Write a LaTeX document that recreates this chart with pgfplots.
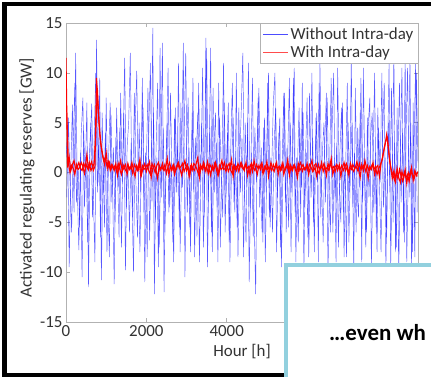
\documentclass[border=0pt]{standalone}
\usepackage{pgfplots}
\pgfplotsset{compat=1.18}
\usepackage{fontspec}
\setmainfont{Carlito}
\definecolor{boxcol}{RGB}{146,208,222}
\begin{document}
\begin{tikzpicture}[x=1bp,y=1bp]
\useasboundingbox (0,0) rectangle (431,377);
\clip (0,0) rectangle (431,377);
\fill[white] (0,0) rectangle (431,377);
\begin{axis}[
  at={(66bp,55bp)}, anchor=south west,
  scale only axis, width=352bp, height=299bp,
  xmin=0, xmax=8760, ymin=-15, ymax=15,
  xtick={0,2000,4000,6000,8000}, xticklabels={0,2000,4000,,},
  ytick={-15,-10,-5,0,5,10,15},
  tick align=inside, major tick length=4bp,
  axis line style={draw=gray!60, line width=0.6bp},
  tick style={draw=gray!60, line width=0.5bp},
  /pgf/number format/assume math mode=true,
  /pgf/number format/1000 sep={},
  ticklabel style={font=\fontsize{17}{17}\selectfont, text=black!80},
  label style={font=\fontsize{17}{17}\selectfont, text=black!80},
  xlabel={Hour [h]}, ylabel={Activated regulating reserves [GW]},
  xlabel style={at={(axis description cs:0.5,-0.1)}, anchor=center},
  ylabel style={at={(axis description cs:-0.111,0.483)}, anchor=center},
  legend style={at={(1,1)}, anchor=north east, draw=gray!60, fill=white,
    font=\fontsize{17}{17}\selectfont, text=black!80, inner sep=2.5bp, row sep=1bp,
    cells={anchor=west}},
  legend image code/.code={\draw[#1, line width=0.5bp, opacity=0.7] (0bp,0bp) -- (25bp,0bp);},
]
\addplot[blue, opacity=0.65, line width=0.45bp] coordinates {
(0,1.5)(40,4.0)(80,-9.5)(120,0.5)(160,6.8)(200,-4.0)(240,12.0)(280,-1.5)(320,-7.8)(360,2.0)
(400,-10.5)(440,4.2)(480,-0.5)(520,7.0)(560,-11.5)(600,2.8)(640,6.9)(680,-2.0)(720,-9.0)(760,13.3)
(800,-1.0)(840,9.5)(880,-10.8)(920,1.0)(960,-5.5)(1000,7.5)(1040,-2.5)(1080,-8.5)(1120,5.8)(1160,-1.5)
(1200,-11.2)(1240,3.5)(1280,0.5)(1320,-6.5)(1360,8.0)(1400,-1.0)(1440,6.0)(1480,-9.8)(1520,2.5)(1560,5.0)
(1600,12.0)(1640,-2.0)(1680,-10.0)(1720,4.5)(1760,10.2)(1800,-1.5)(1840,-8.0)(1880,3.0)(1920,6.5)(1960,-11.0)
(2000,1.0)(2040,8.5)(2080,-6.8)(2120,0.5)(2160,14.5)(2200,-12.2)(2240,2.0)(2280,9.0)(2320,-7.5)(2360,1.5)
(2400,13.0)(2440,-12.0)(2480,0.5)(2520,5.0)(2560,-4.0)(2600,8.0)(2640,-1.0)(2680,-9.0)(2720,6.5)(2760,-2.0)
(2800,11.0)(2840,-8.0)(2880,1.0)(2920,13.0)(2960,-10.5)(3000,2.0)(3040,7.5)(3080,-5.5)(3120,0.5)(3160,9.5)
(3200,-8.5)(3240,1.5)(3280,6.0)(3320,-9.0)(3360,0.5)(3400,10.5)(3440,-4.5)(3480,13.5)(3520,-9.5)(3560,1.0)
(3600,12.5)(3640,-8.0)(3680,2.0)(3720,6.0)(3760,-3.5)(3800,9.0)(3840,-7.5)(3880,0.5)(3920,11.0)(3960,-6.0)
(4000,1.5)(4040,7.0)(4080,-9.0)(4120,0.5)(4160,5.5)(4200,-4.0)(4240,10.0)(4280,-8.5)(4320,1.0)(4360,6.0)
(4400,12.0)(4440,-1.5)(4480,-7.0)(4520,5.0)(4560,-11.0)(4600,0.5)(4640,9.5)(4680,-4.0)(4720,-12.2)(4760,3.0)
(4800,8.5)(4840,-1.0)(4880,-6.0)(4920,4.5)(4960,-9.0)(5000,1.5)(5040,10.0)(5080,-5.5)(5120,0.5)(5160,7.0)
(5200,10.0)(5240,-8.0)(5280,1.0)(5320,5.5)(5360,-9.5)(5400,0.5)(5440,8.0)(5480,-6.0)(5520,2.0)(5560,9.5)
(5600,-8.0)(5640,1.0)(5680,10.5)(5720,-9.0)(5760,0.5)(5800,6.5)(5840,-4.5)(5880,9.0)(5920,-10.0)(5960,1.5)
(6000,7.5)(6040,-8.5)(6080,0.5)(6120,10.0)(6160,-5.0)(6200,1.0)(6240,6.0)(6280,-9.0)(6320,11.0)(6360,-1.0)
(6400,-7.0)(6440,3.0)(6480,8.0)(6520,-10.5)(6560,0.5)(6600,9.5)(6640,-6.0)(6680,1.5)(6720,-9.0)(6760,10.5)
(6800,-1.0)(6840,-5.0)(6880,7.0)(6920,-8.5)(6960,0.5)(7000,9.0)(7040,-7.0)(7080,1.0)(7120,5.0)(7160,-10.0)
(7200,8.5)(7240,-1.5)(7280,-4.5)(7320,6.0)(7360,-9.0)(7400,10.5)(7440,-1.0)(7480,-6.0)(7520,4.5)(7560,7.5)
(7600,-9.5)(7640,0.5)(7680,10.0)(7720,-5.5)(7760,6.5)(7800,-1.0)(7840,-8.0)(7880,4.0)(7920,9.0)(7960,-10.0)
(8000,1.0)(8040,11.0)(8080,-9.5)(8120,0.5)(8160,12.0)(8200,-8.0)(8240,6.5)(8280,-10.5)(8320,1.5)(8360,10.5)
(8400,-6.0)(8440,12.0)(8480,-9.0)(8520,0.5)(8560,11.5)(8600,-10.0)(8640,7.0)(8680,-8.5)(8720,10.0)(8760,1.0)
};
\addlegendentry{Without Intra-day}
\addplot[blue, opacity=0.65, line width=0.45bp, forget plot] coordinates {
(20,-2.5)(60,5.5)(100,-1.0)(140,-6.0)(180,2.5)(220,9.0)(260,-3.0)(300,1.0)(340,-5.5)(380,4.0)
(420,7.5)(460,-3.5)(500,2.0)(540,-7.0)(580,1.5)(620,5.0)(660,-4.5)(700,3.0)(740,10.0)(780,-2.0)
(820,3.5)(860,-6.5)(900,6.0)(940,-2.0)(980,4.0)(1020,-8.0)(1060,1.5)(1100,7.0)(1140,-3.0)(1180,2.5)
(1220,-5.0)(1260,6.5)(1300,-1.5)(1340,4.5)(1380,-7.5)(1420,2.0)(1460,11.5)(1500,-3.5)(1540,1.0)(1580,-6.0)
(1620,3.0)(1660,-4.5)(1700,8.0)(1740,-1.0)(1780,-6.5)(1820,5.0)(1860,-2.0)(1900,9.5)(1940,-4.0)(1980,2.0)
(2020,-8.5)(2060,4.0)(2100,11.0)(2140,-3.0)(2180,6.0)(2220,-5.0)(2260,1.5)(2300,-9.5)(2340,12.5)(2380,-2.5)
(2420,4.5)(2460,-6.0)(2500,2.0)(2540,10.5)(2580,-3.5)(2620,1.0)(2660,-7.0)(2700,5.5)(2740,-2.0)(2780,3.0)
(2820,-5.5)(2860,7.0)(2900,-1.5)(2940,4.0)(2980,12.0)(3020,-4.0)(3060,2.5)(3100,-8.0)(3140,6.0)(3180,-2.0)
(3220,3.5)(3260,-6.5)(3300,9.0)(3340,-1.0)(3380,5.0)(3420,-7.5)(3460,2.0)(3500,12.5)(3540,-3.0)(3580,4.5)
(3620,-6.0)(3660,8.5)(3700,-2.0)(3740,3.0)(3780,-9.0)(3820,5.5)(3860,1.0)(3900,-4.5)(3940,7.0)(3980,-2.5)
(4020,4.0)(4060,-7.0)(4100,2.5)(4140,9.0)(4180,-3.0)(4220,1.5)(4260,-5.5)(4300,6.5)(4340,-2.0)(4380,3.5)
(4420,-8.5)(4460,5.0)(4500,-1.5)(4540,11.0)(4580,-4.0)(4620,2.0)(4660,-6.5)(4700,4.5)(4740,-1.0)(4780,7.5)
(4820,-3.5)(4860,2.5)(4900,-7.0)(4940,5.5)(4980,-2.0)(5020,9.0)(5060,-4.5)(5100,1.5)(5140,-6.0)(5180,3.0)
(5220,6.5)(5260,-2.5)(5300,4.0)(5340,-7.5)(5380,1.0)(5420,8.0)(5460,-3.0)(5500,2.5)(5540,-5.5)(5580,5.0)
(5620,-2.0)(5660,9.5)(5700,-4.0)(5740,1.5)(5780,-7.0)(5820,4.5)(5860,-1.5)(5900,6.0)(5940,-3.5)(5980,2.0)
(6020,-6.5)(6060,8.0)(6100,-2.5)(6140,3.5)(6180,-8.0)(6220,5.5)(6260,-1.0)(6300,9.0)(6340,-4.5)(6380,2.0)
(6420,5.0)(6460,-3.0)(6500,7.5)(6540,-1.5)(6580,-6.0)(6620,4.0)(6660,10.0)(6700,-2.5)(6740,3.0)(6780,-7.5)
(6820,2.5)(6860,6.5)(6900,-4.0)(6940,1.0)(6980,-8.5)(7020,5.0)(7060,-2.0)(7100,11.5)(7140,-3.5)(7180,2.0)
(7220,-6.0)(7260,4.5)(7300,-1.5)(7340,9.5)(7380,-3.0)(7420,2.0)(7460,-7.5)(7500,5.5)(7540,-2.5)(7580,3.5)
(7620,6.0)(7660,-4.0)(7700,2.0)(7740,-8.0)(7780,4.5)(7820,-1.0)(7860,10.0)(7900,-3.5)(7940,1.5)(7980,-6.5)
(8020,5.0)(8060,-2.0)(8100,8.5)(8140,-5.0)(8180,3.0)(8220,-7.5)(8260,1.5)(8300,9.0)(8340,-3.0)(8380,4.0)
(8420,-7.0)(8460,3.5)(8500,10.5)(8540,-2.5)(8580,5.0)(8620,-8.0)(8660,2.0)(8700,11.0)(8740,-4.0)
};
\addplot[red, line width=1.1bp] coordinates {
(0,11.5)(40,0.5)(80,1.5)(120,0.2)(160,0.8)(200,1.2)(240,0.3)(280,0.6)(320,1.0)(360,0.4)
(400,0.2)(440,0.9)(480,0.5)(520,1.8)(560,0.3)(600,0.7)(640,1.1)(680,0.2)(720,0.6)(760,9.5)
(800,6.5)(840,4.0)(880,2.5)(920,1.5)(960,0.8)(1000,2.0)(1040,0.4)(1080,1.0)(1120,0.3)(1160,0.7)
(1200,0.2)(1240,0.9)(1280,-0.3)(1320,0.6)(1360,1.2)(1400,0.1)(1440,0.5)(1480,0.8)(1520,-0.2)(1560,0.6)
(1600,0.4)(1640,1.0)(1680,0.2)(1720,-0.4)(1760,0.7)(1800,0.3)(1840,1.3)(1880,-0.2)(1920,0.5)(1960,0.9)
(2000,0.1)(2040,0.6)(2080,1.1)(2120,-0.5)(2160,0.4)(2200,0.8)(2240,0.2)(2280,-0.6)(2320,0.7)(2360,0.3)
(2400,0.9)(2440,0.2)(2480,0.5)(2520,1.4)(2560,-0.2)(2600,0.6)(2640,0.3)(2680,0.8)(2720,0.1)(2760,0.5)
(2800,1.0)(2840,0.3)(2880,-0.3)(2920,0.7)(2960,1.2)(3000,0.2)(3040,0.5)(3080,-0.4)(3120,0.8)(3160,0.4)
(3200,0.2)(3240,0.9)(3280,1.5)(3320,-0.5)(3360,0.6)(3400,0.3)(3440,0.8)(3480,0.1)(3520,1.1)(3560,0.4)
(3600,-0.3)(3640,0.7)(3680,0.2)(3720,1.0)(3760,0.5)(3800,-0.2)(3840,0.6)(3880,1.2)(3920,0.3)(3960,0.4)
(4000,0.8)(4040,0.1)(4080,0.5)(4120,1.3)(4160,-0.4)(4200,0.6)(4240,0.2)(4280,0.9)(4320,0.4)(4360,1.0)
(4400,0.6)(4440,0.2)(4480,1.0)(4520,-0.3)(4560,0.5)(4600,0.8)(4640,0.1)(4680,1.2)(4720,0.4)(4760,-0.2)
(4800,0.7)(4840,0.3)(4880,0.9)(4920,0.0)(4960,0.5)(5000,1.1)(5040,-0.4)(5080,0.6)(5120,0.2)(5160,0.8)
(5200,0.4)(5240,1.0)(5280,-0.2)(5320,0.6)(5360,0.3)(5400,0.9)(5440,0.1)(5480,0.5)(5520,1.3)(5560,-0.3)
(5600,0.6)(5640,0.2)(5680,0.8)(5720,0.4)(5760,-0.5)(5800,0.7)(5840,1.0)(5880,0.1)(5920,0.5)(5960,0.3)
(6000,0.9)(6040,-0.2)(6080,0.6)(6120,1.2)(6160,0.2)(6200,0.5)(6240,-0.4)(6280,0.8)(6320,0.3)(6360,1.0)
(6400,0.1)(6440,0.6)(6480,-0.3)(6520,0.9)(6560,0.4)(6600,1.4)(6640,-0.2)(6680,0.5)(6720,0.7)(6760,0.2)
(6800,0.8)(6840,-0.4)(6880,0.5)(6920,1.0)(6960,0.2)(7000,0.6)(7040,-0.3)(7080,0.9)(7120,0.4)(7160,0.1)
(7200,0.5)(7240,1.1)(7280,0.3)(7320,-0.5)(7360,0.8)(7400,0.2)(7440,1.2)(7480,0.4)(7520,-0.6)(7560,0.6)
(7600,0.3)(7640,1.0)(7680,-0.2)(7720,0.5)(7760,0.7)(7800,-0.4)(7840,0.9)(7880,1.5)(7920,2.5)(7960,3.2)
(8000,3.5)(8040,1.8)(8080,0.5)(8120,-0.6)(8160,0.2)(8200,-0.9)(8240,0.4)(8280,-0.5)(8320,-1.0)(8360,0.1)
(8400,-0.6)(8440,0.3)(8480,-1.1)(8520,0.0)(8560,-0.4)(8600,0.5)(8640,-0.8)(8680,0.2)(8720,-0.3)(8760,0.1)
};
\addlegendentry{With Intra-day}
\addplot[red, line width=1.1bp, forget plot] coordinates {
(20,6.0)(60,0.9)(100,0.0)(140,0.7)(180,0.4)(220,-0.2)(260,0.8)(300,0.3)(340,0.5)(380,1.0)
(420,0.6)(460,-0.1)(500,0.8)(540,0.4)(580,1.0)(620,0.2)(660,0.5)(700,0.9)(740,4.0)(780,8.5)
(820,5.0)(860,3.0)(900,2.0)(940,1.2)(980,1.5)(1020,0.6)(1060,1.1)(1100,0.2)(1140,0.8)(1180,0.4)
(1220,0.7)(1260,0.1)(1300,0.9)(1340,0.3)(1380,-0.2)(1420,0.8)(1460,0.4)(1500,0.1)(1540,0.9)(1580,0.3)
(1620,0.6)(1660,-0.1)(1700,0.8)(1740,0.5)(1780,0.2)(1820,1.0)(1860,-0.3)(1900,0.7)(1940,0.3)(1980,0.5)
(2020,0.8)(2060,0.2)(2100,-0.2)(2140,0.9)(2180,0.5)(2220,0.0)(2260,0.7)(2300,1.0)(2340,0.2)(2380,0.6)
(2420,0.3)(2460,0.8)(2500,-0.1)(2540,0.6)(2580,1.0)(2620,0.2)(2660,0.7)(2700,-0.2)(2740,0.5)(2780,0.9)
(2820,0.4)(2860,0.6)(2900,0.9)(2940,0.1)(2980,0.5)(3020,0.8)(3060,-0.3)(3100,0.6)(3140,0.2)(3180,0.9)
(3220,0.7)(3260,0.3)(3300,-0.2)(3340,0.8)(3380,0.4)(3420,1.0)(3460,0.2)(3500,0.6)(3540,-0.1)(3580,0.8)
(3620,0.5)(3660,0.2)(3700,0.9)(3740,0.4)(3780,-0.3)(3820,0.7)(3860,0.3)(3900,0.5)(3940,1.0)(3980,0.1)
(4020,0.6)(4060,0.9)(4100,0.2)(4140,-0.1)(4180,0.8)(4220,0.4)(4260,0.7)(4300,0.1)(4340,0.9)(4380,0.5)
(4420,0.3)(4460,0.8)(4500,0.4)(4540,0.6)(4580,-0.2)(4620,0.9)(4660,0.5)(4700,0.2)(4740,0.8)(4780,0.4)
(4820,0.5)(4860,0.9)(4900,-0.1)(4940,0.6)(4980,0.3)(5020,0.7)(5060,0.2)(5100,1.0)(5140,0.4)(5180,0.1)
(5220,0.8)(5260,0.3)(5300,0.6)(5340,0.2)(5380,0.9)(5420,-0.2)(5460,0.5)(5500,0.7)(5540,0.1)(5580,0.8)
(5620,0.3)(5660,0.7)(5700,0.4)(5740,-0.1)(5780,0.9)(5820,0.2)(5860,0.5)(5900,0.8)(5940,0.3)(5980,0.6)
(6020,0.2)(6060,0.8)(6100,0.5)(6140,0.1)(6180,0.7)(6220,0.9)(6260,0.3)(6300,-0.1)(6340,0.6)(6380,0.4)
(6420,0.9)(6460,0.3)(6500,0.5)(6540,0.2)(6580,1.0)(6620,0.4)(6660,0.6)(6700,0.1)(6740,0.8)(6780,0.5)
(6820,0.3)(6860,0.7)(6900,0.2)(6940,0.6)(6980,0.9)(7020,-0.1)(7060,0.5)(7100,0.3)(7140,0.8)(7180,0.4)
(7220,0.6)(7260,0.2)(7300,0.9)(7340,0.3)(7380,0.5)(7420,0.8)(7460,0.1)(7500,0.7)(7540,0.2)(7580,0.4)
(7620,0.8)(7660,0.3)(7700,0.6)(7740,-0.2)(7780,0.4)(7820,0.7)(7860,1.2)(7900,2.0)(7940,2.8)(7980,3.8)
(8020,2.5)(8060,1.0)(8100,0.2)(8140,-0.3)(8180,-0.8)(8220,0.0)(8260,-0.6)(8300,0.3)(8340,-0.4)(8380,-0.9)
(8420,0.0)(8460,-0.5)(8500,-0.2)(8540,-0.9)(8580,0.2)(8620,-0.3)(8660,-0.7)(8700,0.0)(8740,-0.4)
};
\end{axis}
\draw[line width=4bp] (440,1.5) -- (4.5,1.5) -- (4.5,373) -- (440,373);
\draw[line width=4bp, draw=boxcol, fill=white] (286,112) rectangle (460,-20);
\node[anchor=base west, inner sep=0pt, font=\fontsize{23}{23}\selectfont\bfseries] at (329,37) {…even wh};
\end{tikzpicture}
\end{document}
